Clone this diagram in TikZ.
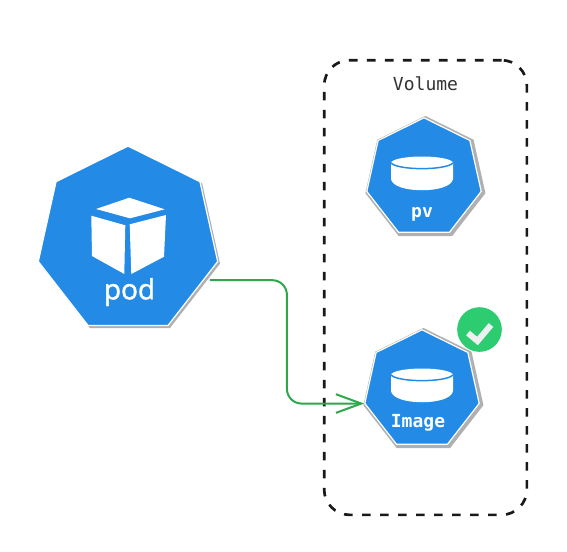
\documentclass[tikz,border=0pt]{standalone}
\usepackage{fontspec}
\usetikzlibrary{shapes.geometric, arrows.meta, positioning, shadows}
\newfontfamily\labelfont{DejaVu Sans Mono}
\newfontfamily\podfont[FakeBold=1.5]{Open Sans}
\definecolor{k8sblue}{HTML}{238AE6}
\definecolor{flowgreen}{HTML}{2EA84A}
\definecolor{checkgreen}{HTML}{2ECC71}
\definecolor{checkwhite}{HTML}{ECF0F1}
\definecolor{edgegray}{HTML}{B0B0B0}
\definecolor{textdark}{HTML}{333333}

\begin{document}
\begin{tikzpicture}[
  x=0.75pt, y=-0.75pt,
  heptagon/.style={regular polygon, regular polygon sides=7, transform shape, yscale=1.026, inner sep=0pt, fill=k8sblue, draw=white, line width=0.9pt},
  bigshadow/.style={general shadow={shadow xshift=1.4pt, shadow yshift=-1.5pt, shadow scale=1.005, fill=edgegray}},
  smallshadow/.style={general shadow={shadow xshift=1pt, shadow yshift=-0.7pt, shadow scale=1.05, fill=edgegray}},
  kindlabel/.style={text=white, font=\labelfont\bfseries\fontsize{13.5}{16}\selectfont, inner sep=0pt},
  iconpart/.style={fill=white, draw=none},
  flow/.style={draw=flowgreen, line width=1.5pt, rounded corners=11pt},
  disk/.pic={
    \fill[white] (-31,-7) -- (31,-7) -- (31,9) .. controls (29,24) and (-29,24) .. (-31,9) -- cycle;
    \fill[white] (0,-7) ellipse[x radius=31, y radius=6.5];
    \draw[k8sblue, line width=1.1pt] (-31,-7) .. controls (-24,0.5) and (24,0.5) .. (31,-7);
  }
]
  \useasboundingbox (0,0) rectangle (567,551);

  \node[draw=black!90, dashed, dash pattern=on 6.5pt off 7pt, line width=2pt, rounded corners=19pt, minimum width=152pt, minimum height=341pt, inner sep=0pt] (volume) at (425.5,287.5) {};
  \node[text=textdark, font=\labelfont\fontsize{13.5}{16}\selectfont, inner sep=0pt] (volumelabel) at (425.5,84) {Volume};

  \node[heptagon, bigshadow, minimum size=138pt] (pod) at (128,240.5) {};
  \node[heptagon, smallshadow, minimum size=88pt] (pv) at (424,178) {};
  \node[heptagon, smallshadow, minimum size=88pt] (image) at (422,390) {};

  % cube on the pod
  \fill[iconpart] (96,209) -- (129.3,197.7) -- (164.7,209.3) -- (130,218.3) -- cycle;
  \fill[iconpart] (91.3,215.7) -- (125.3,225.3) -- (124.3,274) -- (92,256) -- cycle;
  \fill[iconpart] (129.7,224.3) -- (166,215) -- (164,256.7) -- (131.3,274) -- cycle;
  \node[text=white, font=\podfont\fontsize{21}{24}\selectfont, inner sep=0pt] (podlabel) at (129.5,292) {pod};

  \pic at (422,170) {disk};
  \node[kindlabel] (pvlabel) at (422,214) {pv};

  \pic at (422,382) {disk};
  \node[kindlabel] (imagelabel) at (418,423) {Image};

  \node[circle, fill=checkgreen, minimum size=33.5pt, inner sep=0pt] (badge) at (479.5,329.5) {};
  \draw[checkwhite, line width=4.5pt] (468,333) -- (477.5,341) -- (491,325);

  \draw[flow, -{Straight Barb[length=19pt, width=14pt]}] ([xshift=4.5pt]pod.-27) -- ++(77,0) |- (image.corner 3);
\end{tikzpicture}
\end{document}
